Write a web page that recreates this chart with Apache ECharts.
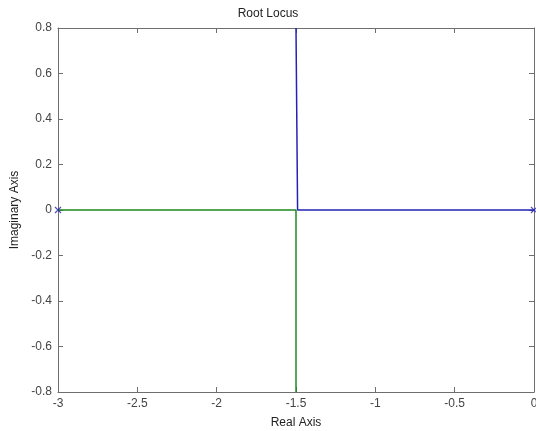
<!DOCTYPE html>
<html>
<head>
<meta charset="utf-8">
<script src="https://cdn.jsdelivr.net/npm/echarts@6/dist/echarts.min.js"></script>
<style>
  html, body { margin: 0; padding: 0; background: #fff; }
  #chart { width: 536px; height: 431px; }
</style>
</head>
<body>
<div id="chart"></div>
<script>
// root locus branches (real / imaginary parts)
const branch1Re = [0, -1.49, -1.5, -1.5];
const branch1Im = [0, 0, 0.003, 0.8];
const branch2Re = [-3, -1.5, -1.5];
const branch2Im = [0, 0, -0.8];
// open-loop poles
const poleRe = [-3, 0];
const poleIm = [0, 0];

const zip = (a, b) => a.map((v, i) => [v, b[i]]);

const axisColor = '#6e6e6e';
const labelColor = '#444';
const font = 'Liberation Sans, Arial, sans-serif';

const chart = echarts.init(document.getElementById('chart'));

const option = {
  animation: false,
  title: {
    text: 'Root Locus',
    left: 'center',
    top: 3,
    textStyle: { fontSize: 12, fontWeight: 'normal', color: '#222', fontFamily: font },
  },
  grid: { left: 58, right: 2, top: 28, bottom: 39, containLabel: false, outerBoundsMode: 'none' },
  xAxis: [
    {
      type: 'value', min: -3, max: 0, interval: 0.5,
      name: 'Real Axis', nameLocation: 'middle', nameGap: 25,
      nameTextStyle: { fontSize: 12, color: '#222', fontFamily: font },
      axisLine: { onZero: false, lineStyle: { color: axisColor } },
      axisTick: { inside: true, length: 5, lineStyle: { color: axisColor } },
      axisLabel: { fontSize: 12, color: labelColor, fontFamily: font, margin: 6 },
      splitLine: { show: false },
    },
    {
      type: 'value', min: -3, max: 0, interval: 0.5, position: 'top',
      axisLine: { onZero: false, lineStyle: { color: axisColor } },
      axisTick: { inside: true, length: 5, lineStyle: { color: axisColor } },
      axisLabel: { show: false },
      splitLine: { show: false },
    },
  ],
  yAxis: [
    {
      type: 'value', min: -0.8, max: 0.8, interval: 0.2,
      name: 'Imaginary Axis', nameLocation: 'middle', nameGap: 36,
      nameTextStyle: { fontSize: 12, color: '#222', fontFamily: font },
      axisLine: { onZero: false, lineStyle: { color: axisColor } },
      axisTick: { inside: true, length: 5, lineStyle: { color: axisColor } },
      axisLabel: {
        fontSize: 12, color: labelColor, fontFamily: font, margin: 6,
        formatter: v => String(Math.round(v * 10) / 10),
      },
      splitLine: { show: false },
    },
    {
      type: 'value', min: -0.8, max: 0.8, interval: 0.2, position: 'right',
      axisLine: { onZero: false, lineStyle: { color: axisColor } },
      axisTick: { inside: true, length: 5, lineStyle: { color: axisColor } },
      axisLabel: { show: false },
      splitLine: { show: false },
    },
  ],
  series: [
    {
      type: 'line',
      data: zip(branch1Re, branch1Im),
      showSymbol: false,
      lineStyle: { color: '#2222b4', width: 1.5 },
      z: 3,
    },
    {
      type: 'line',
      data: zip(branch2Re, branch2Im),
      showSymbol: false,
      lineStyle: { color: '#1e8a1e', width: 1.5 },
      z: 3,
    },
    {
      type: 'scatter',
      data: zip(poleRe, poleIm),
      symbol: 'path://M0,0L10,10M10,0L0,10',
      symbolSize: 6,
      itemStyle: { color: 'none', borderColor: '#2222b4', borderWidth: 1.2 },
      z: 4,
    },
  ],
};

chart.setOption(option);
</script>
</body>
</html>
